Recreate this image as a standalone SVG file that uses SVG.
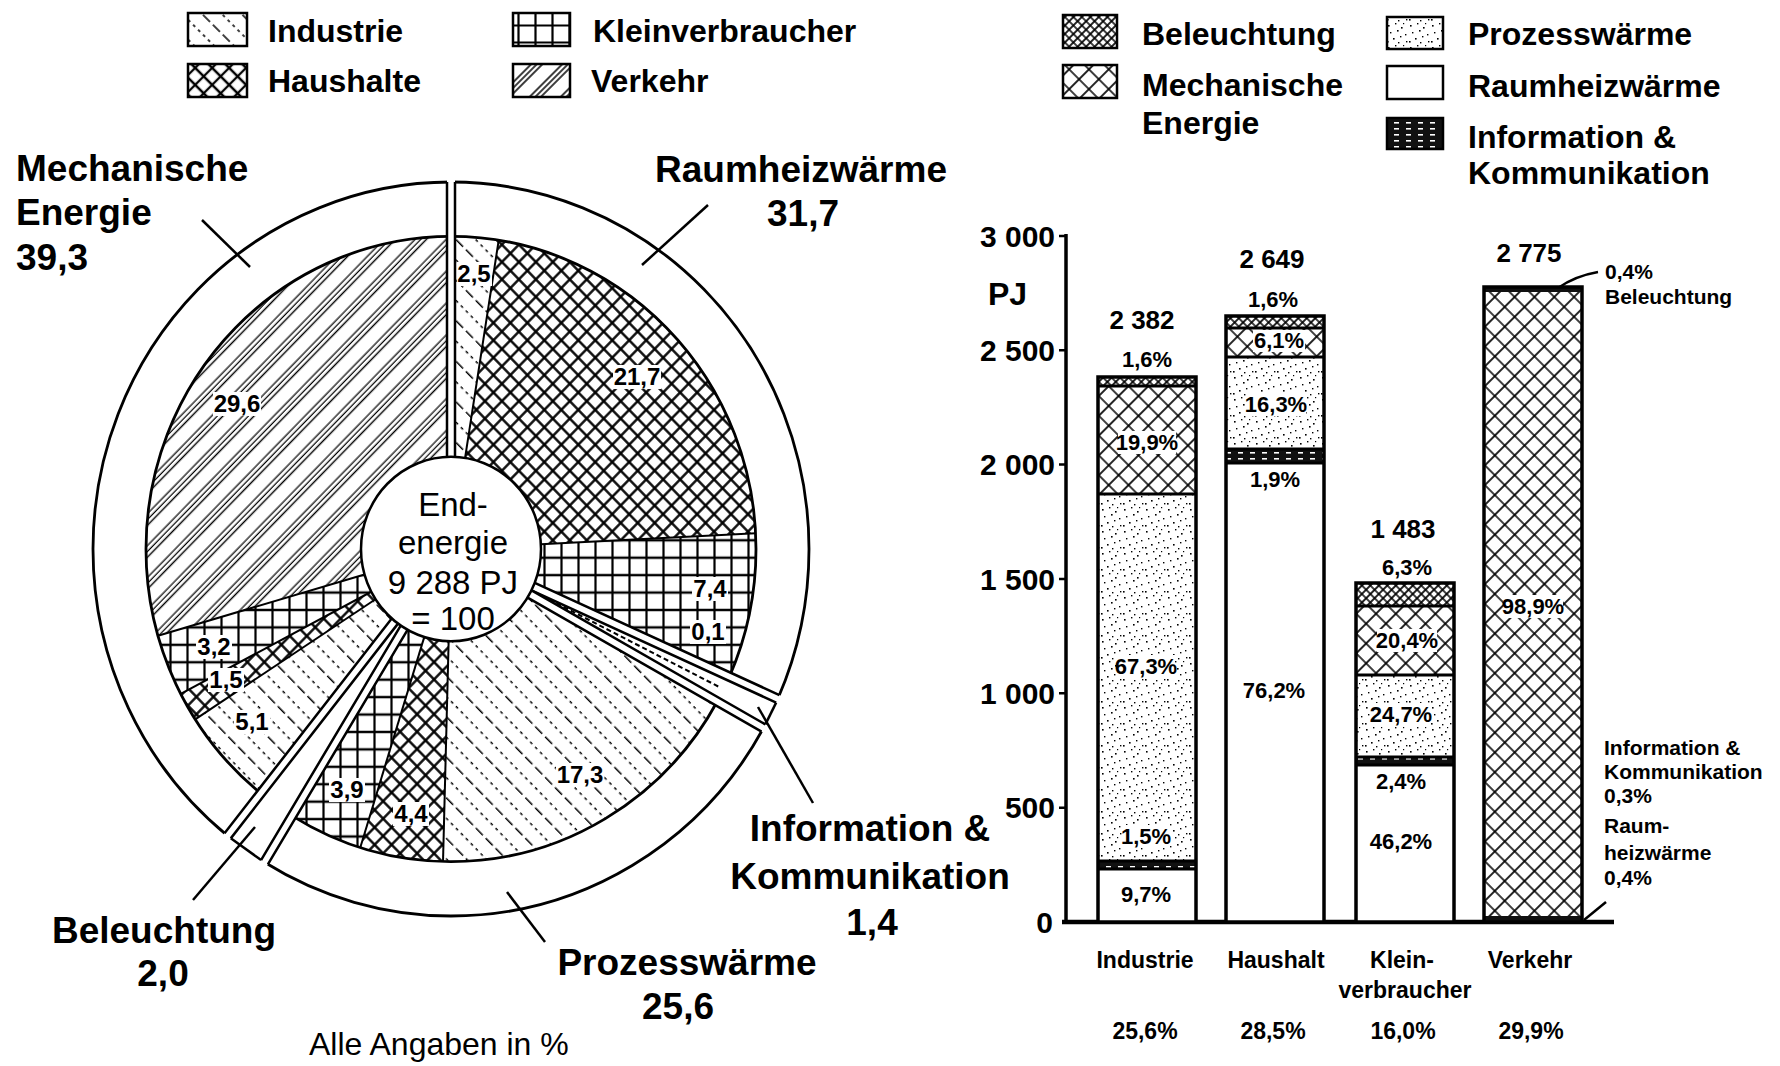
<svg xmlns="http://www.w3.org/2000/svg" width="1780" height="1066" viewBox="0 0 1780 1066">
<style>
text{font-family:"Liberation Sans",Arial,sans-serif;fill:#000}
.big{font-size:37px;font-weight:bold}
.mid{text-anchor:middle}
.leg{font-size:32px;font-weight:bold}
.pl{font-size:24px;font-weight:bold;text-anchor:middle}
.ctr{font-size:33px;text-anchor:middle}
.ax{font-size:30px;font-weight:bold;text-anchor:end}
.bv{font-size:26px;font-weight:bold;text-anchor:middle}
.bp{font-size:22px;font-weight:bold;text-anchor:middle}
.cat{font-size:23px;font-weight:bold;text-anchor:middle}
.ann{font-size:21px;font-weight:bold}
.ln{stroke:#000;stroke-width:2.5;fill:none}
.thin{stroke:#000;stroke-width:2;fill:none}
.sec{fill:none;stroke-width:215}
.arc{fill:none;stroke:#000;stroke-width:2.8}
.box{stroke:#000;stroke-width:2.5}
.bar{fill:none;stroke:#000;stroke-width:3.5}
.wb{fill:#fff}
</style>
<defs>
 <pattern id="pInd" patternUnits="userSpaceOnUse" width="28" height="28" patternTransform="rotate(45)">
  <rect width="28" height="28" fill="#fff"/>
  <line x1="0" y1="7" x2="28" y2="7" stroke="#000" stroke-width="1.6" stroke-dasharray="10 4"/>
  <line x1="0" y1="21" x2="28" y2="21" stroke="#000" stroke-width="1.4" stroke-dasharray="3 4"/>
 </pattern>
 <pattern id="pHaus" patternUnits="userSpaceOnUse" width="12" height="12" patternTransform="rotate(45)">
  <rect width="12" height="12" fill="#fff"/>
  <path d="M0,6H12M6,0V12" stroke="#000" stroke-width="2.3"/>
 </pattern>
 <pattern id="pKlein" patternUnits="userSpaceOnUse" width="17" height="17">
  <rect width="17" height="17" fill="#fff"/>
  <path d="M0,8.5H17M8.5,0V17" stroke="#000" stroke-width="2.2"/>
 </pattern>
 <pattern id="pVerk" patternUnits="userSpaceOnUse" width="22" height="22" patternTransform="rotate(-45)">
  <rect width="22" height="22" fill="#fff"/>
  <path d="M0,3H22M0,7H22M0,11H22" stroke="#000" stroke-width="1.3"/>
 </pattern>
 <pattern id="bBel" patternUnits="userSpaceOnUse" width="6" height="6" patternTransform="rotate(45)">
  <rect width="6" height="6" fill="#fff"/>
  <path d="M0,3H6M3,0V6" stroke="#000" stroke-width="1.7"/>
 </pattern>
 <pattern id="bMech" patternUnits="userSpaceOnUse" width="14" height="14" patternTransform="rotate(45)">
  <rect width="14" height="14" fill="#fff"/>
  <path d="M0,7H14M7,0V14" stroke="#000" stroke-width="1.7"/>
 </pattern>
 <pattern id="bProz" patternUnits="userSpaceOnUse" width="22" height="22">
  <rect width="22" height="22" fill="#fff"/>
  <g fill="#000">
   <rect x="2" y="3" width="1.6" height="1.6"/><rect x="9" y="1" width="1.4" height="1.4"/>
   <rect x="15" y="5" width="1.6" height="1.6"/><rect x="19" y="12" width="1.4" height="1.4"/>
   <rect x="4" y="10" width="1.4" height="1.4"/><rect x="11" y="8" width="1.6" height="1.6"/>
   <rect x="7" y="16" width="1.6" height="1.6"/><rect x="14" y="14" width="1.4" height="1.4"/>
   <rect x="20" y="19" width="1.4" height="1.4"/><rect x="1" y="19" width="1.6" height="1.6"/>
   <rect x="17" y="1" width="1.2" height="1.2"/><rect x="12" y="20" width="1.4" height="1.4"/>
  </g>
 </pattern>
 <pattern id="bInfo" patternUnits="userSpaceOnUse" width="12" height="6">
  <rect width="12" height="6" fill="#111"/>
  <rect x="2" y="2" width="5" height="1.6" fill="#fff"/>
 </pattern>
</defs>

<!-- Left legend -->
<g id="legend-sectors">
 <g id="leg-industrie"><rect class="box" x="188" y="13" width="59" height="33" fill="url(#pInd)"/><text class="leg" x="268" y="42">Industrie</text></g>
 <g id="leg-haushalte"><rect class="box" x="188" y="64" width="59" height="33" fill="url(#pHaus)"/><text class="leg" x="268" y="92">Haushalte</text></g>
 <g id="leg-klein"><rect class="box" x="513" y="13" width="57" height="33" fill="url(#pKlein)"/><text class="leg" x="593" y="42">Kleinverbraucher</text></g>
 <g id="leg-verkehr"><rect class="box" x="513" y="64" width="57" height="33" fill="url(#pVerk)"/><text class="leg" x="591" y="92">Verkehr</text></g>
</g>

<!-- Right legend -->
<g id="legend-uses">
 <g id="leg-bel"><rect class="box" x="1063" y="15" width="54" height="33" fill="url(#bBel)"/><text class="leg" x="1142" y="45">Beleuchtung</text></g>
 <g id="leg-mech"><rect class="box" x="1063" y="65" width="54" height="33" fill="url(#bMech)"/><text class="leg" x="1142" y="96">Mechanische</text><text class="leg" x="1142" y="134">Energie</text></g>
 <g id="leg-proz"><rect class="box" x="1387" y="17" width="56" height="32" fill="url(#bProz)"/><text class="leg" x="1468" y="45">Prozesswärme</text></g>
 <g id="leg-raum"><rect class="box" x="1387" y="66" width="56" height="33" fill="#fff"/><text class="leg" x="1468" y="97">Raumheizwärme</text></g>
 <g id="leg-info"><rect class="box" x="1387" y="118" width="56" height="31" fill="url(#bInfo)"/><text class="leg" x="1468" y="148">Information &amp;</text><text class="leg" x="1468" y="184">Kommunikation</text></g>
</g>

<!-- Pie -->
<g id="pie" transform="translate(451,549) scale(1,1.025)">
 <g id="pie-sectors">
  <circle class="sec" r="197.5" pathLength="360" stroke="url(#pInd)" stroke-dasharray="9 351" stroke-dashoffset="90"/>
  <circle class="sec" r="197.5" pathLength="360" stroke="url(#pHaus)" stroke-dasharray="78.1 281.9" stroke-dashoffset="81"/>
  <circle class="sec" r="197.5" pathLength="360" stroke="url(#pKlein)" stroke-dasharray="26.6 333.4" stroke-dashoffset="2.9"/>
  <circle class="sec" r="197.5" pathLength="360" stroke="url(#pVerk)" stroke-dasharray="0.4 359.6" stroke-dashoffset="-23.7"/>
  <circle class="sec" r="197.5" pathLength="360" stroke="url(#pInd)" stroke-dasharray="62.3 297.7" stroke-dashoffset="-29.2"/>
  <circle class="sec" r="197.5" pathLength="360" stroke="url(#pHaus)" stroke-dasharray="15.8 344.2" stroke-dashoffset="-91.5"/>
  <circle class="sec" r="197.5" pathLength="360" stroke="url(#pKlein)" stroke-dasharray="14.1 345.9" stroke-dashoffset="-107.3"/>
  <circle class="sec" r="197.5" pathLength="360" stroke="url(#pInd)" stroke-dasharray="18.4 341.6" stroke-dashoffset="-128.6"/>
  <circle class="sec" r="197.5" pathLength="360" stroke="url(#pHaus)" stroke-dasharray="5.4 354.6" stroke-dashoffset="-147"/>
  <circle class="sec" r="197.5" pathLength="360" stroke="url(#pKlein)" stroke-dasharray="11.5 348.5" stroke-dashoffset="-152.4"/>
  <circle class="sec" r="197.5" pathLength="360" stroke="url(#pVerk)" stroke-dasharray="106.1 253.9" stroke-dashoffset="-163.9"/>
 </g>
 <g id="pie-dividers">
  <path class="thin" transform="rotate(9)" d="M0,-90V-305"/>
  <path class="thin" transform="rotate(87.1)" d="M0,-90V-305"/>
  <path class="thin" transform="rotate(113.7)" d="M0,-90V-305"/>
  <path class="thin" transform="rotate(181.5)" d="M0,-90V-305"/>
  <path class="thin" transform="rotate(197.3)" d="M0,-90V-305"/>
  <path class="thin" transform="rotate(237)" d="M0,-90V-305"/>
  <path class="thin" transform="rotate(242.4)" d="M0,-90V-305"/>
  <path class="thin" transform="rotate(253.9)" d="M0,-90V-305"/>
 </g>
 <g id="pie-arcs">
  <circle class="arc" r="305" pathLength="360" stroke-dasharray="114.1 245.9" stroke-dashoffset="90"/>
  <circle class="arc" r="305" pathLength="360" stroke-dasharray="92.2 267.8" stroke-dashoffset="-29.2"/>
  <circle class="arc" r="305" pathLength="360" stroke-dasharray="141.4 218.6" stroke-dashoffset="-128.6"/>
  <circle class="arc" r="358" pathLength="360" stroke-dasharray="114.1 245.9" stroke-dashoffset="90"/>
  <circle class="arc" r="358" pathLength="360" stroke-dasharray="92.2 267.8" stroke-dashoffset="-29.2"/>
  <circle class="arc" r="358" pathLength="360" stroke-dasharray="141.4 218.6" stroke-dashoffset="-128.6"/>
 </g>
 <g id="pie-gaps">
  <g transform="rotate(0)"><rect x="-4" y="-362" width="8" height="274" fill="#fff"/><path class="ln" d="M-4,-90V-358M4,-90V-358"/></g>
  <g transform="rotate(114.1)"><rect x="-4" y="-362" width="8" height="274" fill="#fff"/><path class="ln" d="M-4,-90V-358M4,-90V-358"/></g>
  <g transform="rotate(119.2)"><rect x="-4" y="-362" width="8" height="274" fill="#fff"/><path class="ln" d="M-4,-90V-358M4,-90V-358"/></g>
  <g transform="rotate(211.4)"><rect x="-4" y="-362" width="8" height="274" fill="#fff"/><path class="ln" d="M-4,-90V-358M4,-90V-358"/></g>
  <g transform="rotate(218.6)"><rect x="-4" y="-362" width="8" height="274" fill="#fff"/><path class="ln" d="M-4,-90V-358M4,-90V-358"/></g>
 </g>
 <g id="pie-info-wedge" transform="rotate(116.65)">
  <path class="ln" d="M-11.9,-357.8H11.9"/>
  <path class="thin" d="M0,-110V-300" stroke-dasharray="5 3"/>
 </g>
 <g id="pie-bel-wedge" transform="rotate(215)">
  <path class="ln" d="M-18.5,-357.5H18.5"/>
 </g>
 <circle id="pie-center" r="90" fill="#fff" class="ln"/>
</g>

<g id="pie-center-text">
 <text class="ctr" x="453" y="516">End-</text>
 <text class="ctr" x="453" y="554">energie</text>
 <text class="ctr" x="453" y="594">9 288 PJ</text>
 <text class="ctr" x="453" y="630">= 100</text>
</g>

<g id="pie-values">
 <rect class="wb" x="457" y="262" width="35" height="24"/><text class="pl" x="474" y="282">2,5</text>
 <rect class="wb" x="613" y="365" width="48" height="24"/><text class="pl" x="637" y="385">21,7</text>
 <rect class="wb" x="692" y="577" width="36" height="24"/><text class="pl" x="710" y="597">7,4</text>
 <rect class="wb" x="690" y="620" width="36" height="24"/><text class="pl" x="708" y="640">0,1</text>
 <rect class="wb" x="213" y="392" width="48" height="24"/><text class="pl" x="237" y="412">29,6</text>
 <rect class="wb" x="196" y="635" width="36" height="24"/><text class="pl" x="214" y="655">3,2</text>
 <rect class="wb" x="208" y="668" width="36" height="24"/><text class="pl" x="226" y="688">1,5</text>
 <rect class="wb" x="234" y="710" width="36" height="24"/><text class="pl" x="252" y="730">5,1</text>
 <rect class="wb" x="329" y="778" width="36" height="24"/><text class="pl" x="347" y="798">3,9</text>
 <rect class="wb" x="393" y="802" width="36" height="24"/><text class="pl" x="411" y="822">4,4</text>
 <rect class="wb" x="556" y="763" width="48" height="24"/><text class="pl" x="580" y="783">17,3</text>
</g>

<g id="connectors">
 <path class="ln" d="M202,220L250,267"/>
 <path class="ln" d="M708,205L642,265"/>
 <path class="ln" d="M758,707L813,803"/>
 <path class="ln" d="M507,892L545,942"/>
 <path class="ln" d="M255,827L193,900"/>
 <path class="ln" d="M1558,288Q1575,276 1598,272"/>
 <path class="ln" d="M1584,920L1606,902"/>
</g>

<g id="pie-labels">
 <g id="lbl-mech"><text class="big" x="16" y="181">Mechanische</text><text class="big" x="16" y="225">Energie</text><text class="big" x="16" y="270">39,3</text></g>
 <g id="lbl-raum"><text class="big" x="655" y="182">Raumheizwärme</text><text class="big mid" x="803" y="226">31,7</text></g>
 <g id="lbl-info"><text class="big mid" x="870" y="841">Information &amp;</text><text class="big mid" x="870" y="889">Kommunikation</text><text class="big mid" x="872" y="935">1,4</text></g>
 <g id="lbl-proz"><text class="big mid" x="687" y="975">Prozesswärme</text><text class="big mid" x="678" y="1019">25,6</text></g>
 <g id="lbl-bel"><text class="big mid" x="164" y="943">Beleuchtung</text><text class="big mid" x="163" y="986">2,0</text></g>
 <text x="309" y="1055" font-size="32">Alle Angaben in %</text>
</g>

<!-- Bar chart -->
<g id="barchart">
 <g id="axes">
  <path d="M1066,234V922" stroke="#000" stroke-width="3.5"/>
  <path d="M1062,922H1614" stroke="#000" stroke-width="4.5"/>
  <path d="M1059,236H1066M1059,350.3H1066M1059,464.6H1066M1059,579H1066M1059,693.3H1066M1059,807.7H1066" stroke="#000" stroke-width="2.5"/>
  <text class="ax" x="1055" y="247">3 000</text>
  <text class="ax" x="1055" y="361">2 500</text>
  <text class="ax" x="1055" y="475">2 000</text>
  <text class="ax" x="1055" y="590">1 500</text>
  <text class="ax" x="1055" y="704">1 000</text>
  <text class="ax" x="1055" y="818">500</text>
  <text class="ax" x="1053" y="933">0</text>
  <text x="988" y="305" font-size="32" font-weight="bold">PJ</text>
 </g>
 <g id="bar-industrie">
  <rect x="1098" y="377" width="98" height="9" fill="url(#bBel)"/>
  <rect x="1098" y="386" width="98" height="108" fill="url(#bMech)"/>
  <rect x="1098" y="494" width="98" height="367" fill="url(#bProz)"/>
  <rect x="1098" y="861" width="98" height="8" fill="url(#bInfo)"/>
  <rect x="1098" y="869" width="98" height="53" fill="#fff"/>
  <path d="M1098,386H1196M1098,494H1196M1098,861H1196M1098,869H1196" stroke="#000" stroke-width="3"/>
  <rect class="bar" x="1098" y="377" width="98" height="545"/>
  <text class="bv" x="1142" y="329">2 382</text>
  <text class="bp" x="1147" y="367">1,6%</text>
  <rect class="wb" x="1118" y="431" width="58" height="23"/><text class="bp" x="1147" y="450">19,9%</text>
  <rect class="wb" x="1117" y="655" width="58" height="23"/><text class="bp" x="1146" y="674">67,3%</text>
  <rect class="wb" x="1122" y="825" width="48" height="23"/><text class="bp" x="1146" y="844">1,5%</text>
  <text class="bp" x="1146" y="902">9,7%</text>
 </g>
 <g id="bar-haushalt">
  <rect x="1226" y="316" width="98" height="12" fill="url(#bBel)"/>
  <rect x="1226" y="328" width="98" height="29" fill="url(#bMech)"/>
  <rect x="1226" y="357" width="98" height="92" fill="url(#bProz)"/>
  <rect x="1226" y="449" width="98" height="14" fill="url(#bInfo)"/>
  <rect x="1226" y="463" width="98" height="459" fill="#fff"/>
  <path d="M1226,328H1324M1226,357H1324M1226,449H1324M1226,463H1324" stroke="#000" stroke-width="3"/>
  <rect class="bar" x="1226" y="316" width="98" height="606"/>
  <text class="bv" x="1272" y="268">2 649</text>
  <text class="bp" x="1273" y="307">1,6%</text>
  <rect class="wb" x="1253" y="330" width="52" height="22"/><text class="bp" x="1279" y="348">6,1%</text>
  <rect class="wb" x="1246" y="393" width="60" height="23"/><text class="bp" x="1276" y="412">16,3%</text>
  <text class="bp" x="1275" y="487">1,9%</text>
  <text class="bp" x="1274" y="698">76,2%</text>
 </g>
 <g id="bar-klein">
  <rect x="1356" y="583" width="98" height="23" fill="url(#bBel)"/>
  <rect x="1356" y="606" width="98" height="69" fill="url(#bMech)"/>
  <rect x="1356" y="675" width="98" height="82" fill="url(#bProz)"/>
  <rect x="1356" y="757" width="98" height="8" fill="url(#bInfo)"/>
  <rect x="1356" y="765" width="98" height="157" fill="#fff"/>
  <path d="M1356,606H1454M1356,675H1454M1356,757H1454M1356,765H1454" stroke="#000" stroke-width="3"/>
  <rect class="bar" x="1356" y="583" width="98" height="339"/>
  <text class="bv" x="1403" y="538">1 483</text>
  <text class="bp" x="1407" y="575">6,3%</text>
  <rect class="wb" x="1377" y="629" width="60" height="23"/><text class="bp" x="1407" y="648">20,4%</text>
  <rect class="wb" x="1371" y="703" width="60" height="23"/><text class="bp" x="1401" y="722">24,7%</text>
  <text class="bp" x="1401" y="789">2,4%</text>
  <text class="bp" x="1401" y="849">46,2%</text>
 </g>
 <g id="bar-verkehr">
  <rect x="1484" y="287" width="98" height="5" fill="#111"/>
  <rect x="1484" y="292" width="98" height="625" fill="url(#bMech)"/>
  <rect x="1484" y="916" width="98" height="6" fill="#111"/>
  <rect class="bar" x="1484" y="287" width="98" height="635"/>
  <text class="bv" x="1529" y="262">2 775</text>
  <rect class="wb" x="1503" y="595" width="60" height="23"/><text class="bp" x="1533" y="614">98,9%</text>
 </g>
 <g id="bar-annotations">
  <text class="ann" x="1605" y="279">0,4%</text>
  <text class="ann" x="1605" y="304">Beleuchtung</text>
  <text class="ann" x="1604" y="755">Information &amp;</text>
  <text class="ann" x="1604" y="779">Kommunikation</text>
  <text class="ann" x="1604" y="803">0,3%</text>
  <text class="ann" x="1604" y="833">Raum-</text>
  <text class="ann" x="1604" y="860">heizwärme</text>
  <text class="ann" x="1604" y="885">0,4%</text>
 </g>
 <g id="bar-categories">
  <text class="cat" x="1145" y="968">Industrie</text>
  <text class="cat" x="1276" y="968">Haushalt</text>
  <text class="cat" x="1402" y="968">Klein-</text>
  <text class="cat" x="1405" y="998">verbraucher</text>
  <text class="cat" x="1530" y="968">Verkehr</text>
  <text class="cat" x="1145" y="1039">25,6%</text>
  <text class="cat" x="1273" y="1039">28,5%</text>
  <text class="cat" x="1403" y="1039">16,0%</text>
  <text class="cat" x="1531" y="1039">29,9%</text>
 </g>
</g>
</svg>
